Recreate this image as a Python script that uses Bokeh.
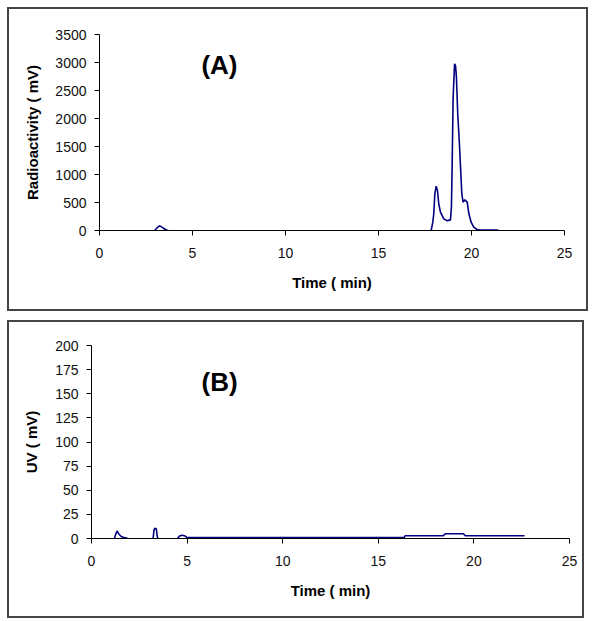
import math
from bokeh.plotting import figure
from bokeh.models import Range1d, Label, SingleIntervalTicker
from bokeh.embed import file_html
from bokeh.resources import INLINE

NaN = float("nan")

# Panel A: radioactivity chromatogram
time_a = [2.97, 3.10, 3.23, 3.35, 3.46, 3.60, 3.69, NaN,
          17.83, 17.92, 17.97, 18.03, 18.10, 18.17, 18.24, 18.33, 18.51, 18.69,
          18.87, 18.92, 18.96, 19.01, 19.09, 19.14, 19.19, 19.26, 19.35, 19.41,
          19.48, 19.55, 19.64, 19.77, 19.86, 19.98, 20.12, 20.30, 20.48, 21.38, 21.45]
radio_a = [0, 50, 84, 60, 36, 10, 0, NaN,
           0, 148, 298, 655, 791, 714, 476, 327, 208, 173,
           190, 417, 1161, 2351, 2976, 2946, 2738, 2083, 1548, 1131,
           655, 506, 548, 506, 298, 148, 60, 18, 10, 10, 0]

# Panel B: UV chromatogram
time_b = [1.20, 1.26, 1.34, 1.42, 1.55, 1.70, 1.87, NaN,
          3.22, 3.27, 3.31, 3.39, 3.44, 3.48, NaN,
          4.50, 4.60, 4.75, 4.90, 5.00, 10.0, 16.35, 16.40, 18.40, 18.50,
          19.45, 19.55, 22.65]
uv_b = [0, 4, 7.8, 5, 2, 1, 0.5, NaN,
        0, 9, 10.5, 10, 2, 0, NaN,
        0, 2.5, 3.3, 2.5, 1, 1, 1, 2.8, 2.8, 5, 5, 2.8, 2.8]

x_ticks_step = 5
y_ticks_step_a = 500
y_ticks_step_b = 25

FONT = "Liberation Sans"
LINE_COLOR = "#000080"


def make_panel(width, height, left, right, top, bottom, ymax, ystep, ylabel,
               xs, ys, tag, tag_x, tag_y, yl_standoff, margin):
    p = figure(width=width, height=height, output_backend="svg",
               toolbar_location=None, x_range=Range1d(0, 25),
               y_range=Range1d(0, ymax), min_border_left=left,
               min_border_right=right, min_border_top=top,
               min_border_bottom=bottom, margin=margin)
    p.outline_line_color = None
    p.xgrid.visible = False
    p.ygrid.visible = False
    p.background_fill_color = "white"
    p.border_fill_color = "white"
    # panel border drawn just outside the figure element
    p.styles = {"outline": "2px solid #454545", "outline-offset": "0px",
                "max-width": f"{width}px", "max-height": f"{height}px"}

    p.xaxis.ticker = SingleIntervalTicker(interval=x_ticks_step, num_minor_ticks=0)
    p.yaxis.ticker = SingleIntervalTicker(interval=ystep, num_minor_ticks=0)
    for ax in (p.xaxis[0], p.yaxis[0]):
        ax.axis_line_color = "black"
        ax.axis_line_width = 1
        ax.major_tick_in = 0
        ax.major_tick_out = 5
        ax.major_tick_line_color = "black"
        ax.minor_tick_line_color = None
        ax.major_label_text_font = FONT
        ax.major_label_text_font_size = "14px"
        ax.major_label_text_color = "#111111"
        ax.axis_label_text_font = FONT
        ax.axis_label_text_font_size = "15px"
        ax.axis_label_text_font_style = "bold"
        ax.axis_label_text_color = "black"
    p.xaxis.axis_label = "Time ( min)"
    p.yaxis.axis_label = ylabel
    p.xaxis.major_label_standoff = 12
    p.xaxis.axis_label_standoff = 13
    p.yaxis.major_label_standoff = 8
    p.yaxis.axis_label_standoff = yl_standoff

    p.line(xs, ys, line_color=LINE_COLOR, line_width=1.6)

    p.add_layout(Label(x=tag_x, y=tag_y, text=tag, text_font=FONT,
                       text_font_size="26px", text_font_style="bold",
                       text_align="center", text_baseline="middle",
                       text_color="black"))
    return p


pA = make_panel(577, 300, 90, 22, 25, 79, 3500, y_ticks_step_a,
                "Radioactivity ( mV)", time_a, radio_a, "(A)", 6.45, 2950, 11,
                (9, 0, 0, 9))
pB = make_panel(573, 294, 82, 13, 23, 78, 200, y_ticks_step_b,
                "UV ( mV)", time_b, uv_b, "(B)", 6.7, 162, 12,
                (13, 0, 0, 9))

open("out.html", "w").write(file_html([pA, pB], INLINE))
